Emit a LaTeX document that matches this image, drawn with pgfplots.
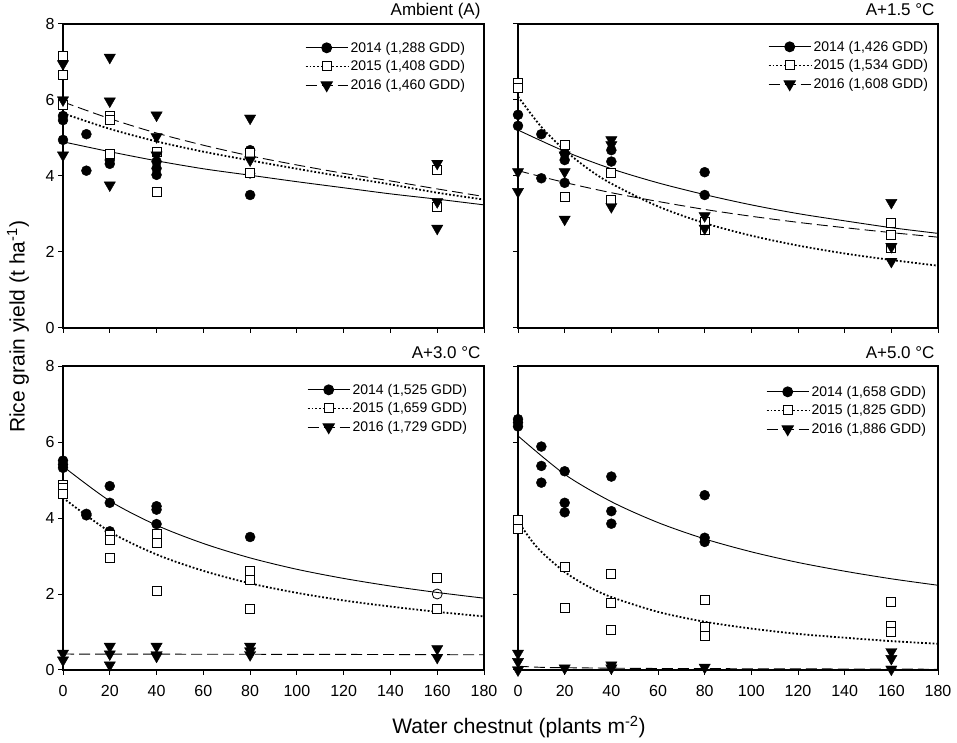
\documentclass[border=0pt]{standalone}
\usepackage{fontspec}
\setmainfont{Liberation Sans}
\usepackage{pgfplots}
\pgfplotsset{compat=1.18}

\pgfplotsset{
  panel/.style={
    scale only axis, width=421pt, height=304pt,
    xmin=0, xmax=180, ymin=0, ymax=8,
    xtick={0,20,...,180}, ytick={0,2,4,6,8},
    tick align=outside, xtick pos=lower, ytick pos=left,
    major tick length=5pt,
    axis line style={line width=1.1pt},
    every tick/.style={black, line width=1pt},
    clip=false,
    /pgf/number format/assume math mode=true,
    tick label style={font=\fontsize{16}{19}\selectfont},
    xticklabel style={yshift=-7pt},
    legend style={draw=none, fill=none, font=\fontsize{14}{17}\selectfont,
      anchor=north east, at={(1,1)}, row sep=3pt, inner sep=0pt, outer sep=0pt},
    legend cell align=left,
    legend image code/.code={\draw[mark repeat=2,mark phase=2] plot coordinates {(0pt,0pt) (21pt,0pt) (42pt,0pt)};},
  },
  mkc/.style={only marks, mark=*, mark size=5pt, black},
  mks/.style={only marks, mark=square*, mark size=4.5pt, black, mark options={fill=white, line width=1pt}},
  mkt/.style={only marks, mark=triangle*, mark size=6.5pt, black, mark options={rotate=180}},
  f14/.style={black, line width=0.9pt, no marks, smooth},
  f15/.style={black, line width=1.8pt, dash pattern=on 1.8pt off 2pt, no marks, smooth},
  f16/.style={black, line width=0.9pt, dash pattern=on 11pt off 5pt, no marks, smooth},
  l14/.style={black, line width=0.9pt, mark=*, mark size=5pt},
  l15/.style={black, line width=1.8pt, dash pattern=on 1.8pt off 2pt, mark=square*, mark size=4.5pt, mark options={solid, fill=white, line width=1pt}},
  l16/.style={black, line width=0.9pt, dash pattern=on 11pt off 5pt, mark=triangle*, mark size=6.5pt, mark options={solid, rotate=180}},
}
\tikzset{ttl/.style={anchor=base east, font=\fontsize{17}{20}\selectfont, yshift=8pt}}

\begin{document}
\begin{tikzpicture}
\useasboundingbox (0pt,0pt) rectangle (957pt,743pt);

% ---------------- Ambient (A)
\begin{axis}[panel, at={(63pt,415pt)}, anchor=south west, xticklabels={},
  legend style={xshift=-17pt, yshift=-16pt}]
\addplot[f14, forget plot] coordinates {(0,4.90) (20,4.64) (40,4.40) (60,4.19) (80,4.02) (100,3.85) (120,3.69) (140,3.53) (160,3.39) (180,3.24)};
\addplot[f15, forget plot] coordinates {(0,5.65) (20,5.24) (40,4.91) (60,4.64) (80,4.41) (100,4.19) (120,3.98) (140,3.78) (160,3.56) (180,3.38)};
\addplot[f16, forget plot] coordinates {(0,5.95) (20,5.51) (40,5.13) (60,4.81) (80,4.53) (100,4.29) (120,4.07) (140,3.87) (160,3.66) (180,3.46)};
\addplot[mkc, forget plot] coordinates {(0,5.58) (0,5.47) (0,4.95) (10,5.1) (10,4.14) (20,4.42) (20,4.32) (40,4.38) (40,4.2) (40,4.03) (80,4.68) (80,4.07) (80,3.5)};
\addplot[mks, forget plot] coordinates {(0,7.16) (0,6.66) (0,5.87) (20,5.58) (20,5.47) (20,4.57) (40,4.62) (40,3.59) (80,4.6) (80,4.07) (160,4.16) (160,3.18)};
\addplot[mkt, forget plot] coordinates {(0,6.95) (0,6.0) (0,4.55) (20,7.12) (20,5.97) (20,3.76) (40,5.6) (40,5.03) (40,4.55) (80,5.52) (80,4.42) (160,4.33) (160,3.32) (160,2.62)};
\addlegendimage{l14}\addlegendentry{2014 (1,288 GDD)}
\addlegendimage{l15}\addlegendentry{2015 (1,408 GDD)}
\addlegendimage{l16}\addlegendentry{2016 (1,460 GDD)}
\node[ttl] at (rel axis cs:1,1) {Ambient (A)};
\end{axis}

% ---------------- A+1.5
\begin{axis}[panel, width=420pt, at={(518pt,415pt)}, anchor=south west, xticklabels={}, yticklabels={},
  legend style={xshift=-8pt, yshift=-15pt}]
\addplot[f14, forget plot] coordinates {(0,5.21) (20,4.65) (40,4.19) (60,3.82) (80,3.51) (100,3.24) (120,3.01) (140,2.82) (160,2.64) (180,2.49)};
\addplot[f15, forget plot] coordinates {(0,6.09) (10,5.29) (20,4.68) (30,4.19) (40,3.80) (60,3.20) (80,2.76) (100,2.43) (120,2.17) (140,1.96) (160,1.79) (180,1.64)};
\addplot[f16, forget plot] coordinates {(0,4.14) (20,3.83) (40,3.56) (60,3.33) (80,3.12) (100,2.94) (120,2.78) (140,2.64) (160,2.51) (180,2.39)};
\addplot[mkc, forget plot] coordinates {(0,5.61) (0,5.32) (10,5.1) (10,3.94) (20,4.6) (20,4.42) (20,3.82) (40,4.68) (40,4.38) (80,4.1) (80,3.5)};
\addplot[mks, forget plot] coordinates {(0,6.46) (0,6.31) (20,4.82) (20,3.44) (40,4.07) (40,3.37) (80,2.8) (80,2.58) (160,2.77) (160,2.45) (160,2.1)};
\addplot[mkt, forget plot] coordinates {(0,4.11) (0,3.59) (20,4.55) (20,4.11) (20,2.86) (40,4.95) (40,4.82) (40,3.19) (80,2.95) (80,2.62) (160,3.3) (160,2.14) (160,1.75)};
\addlegendimage{l14}\addlegendentry{2014 (1,426 GDD)}
\addlegendimage{l15}\addlegendentry{2015 (1,534 GDD)}
\addlegendimage{l16}\addlegendentry{2016 (1,608 GDD)}
\node[ttl] at (rel axis cs:1,1) {A+1.5 °C};
\end{axis}

% ---------------- A+3.0
\begin{axis}[panel, at={(63pt,73pt)}, anchor=south west,
  legend style={xshift=-15pt, yshift=-16pt}]
\addplot[f14, forget plot] coordinates {(0,5.36) (20,4.45) (40,3.81) (60,3.33) (80,2.95) (100,2.65) (120,2.41) (140,2.21) (160,2.04) (180,1.89)};
\addplot[f15, forget plot] coordinates {(0,4.53) (20,3.64) (40,3.04) (60,2.61) (80,2.28) (100,2.03) (120,1.83) (140,1.67) (160,1.53) (180,1.41)};
\addplot[f16, forget plot] coordinates {(0,0.42) (60,0.415) (120,0.41) (180,0.40)};
\addplot[mkc, forget plot] coordinates {(0,5.51) (0,5.41) (0,5.32) (10,4.11) (10,4.07) (20,4.84) (20,4.4) (20,3.65) (40,4.31) (40,4.22) (40,3.84) (80,3.5)};
\addplot[only marks, mark=o, mark size=5pt, black, mark options={line width=0.8pt}, forget plot] coordinates {(160,2.0)};
\addplot[mks, forget plot] coordinates {(0,4.88) (0,4.78) (0,4.63) (20,3.54) (20,3.43) (20,2.96) (40,3.58) (40,3.34) (40,2.07) (80,2.61) (80,2.37) (80,1.6) (160,2.42) (160,1.61)};
\addplot[mkt, forget plot] coordinates {(0,0.44) (0,0.26) (20,0.62) (20,0.42) (20,0.13) (40,0.62) (40,0.4) (40,0.36) (80,0.62) (80,0.5) (80,0.4) (160,0.56) (160,0.33)};
\addlegendimage{l14}\addlegendentry{2014 (1,525 GDD)}
\addlegendimage{l15}\addlegendentry{2015 (1,659 GDD)}
\addlegendimage{l16}\addlegendentry{2016 (1,729 GDD)}
\node[ttl] at (rel axis cs:1,1) {A+3.0 °C};
\end{axis}

% ---------------- A+5.0
\begin{axis}[panel, width=420pt, at={(518pt,73pt)}, anchor=south west, yticklabels={},
  legend style={xshift=-10pt, yshift=-18pt}]
\addplot[f14, forget plot] coordinates {(0,6.16) (20,5.15) (40,4.43) (60,3.88) (80,3.45) (100,3.11) (120,2.83) (140,2.60) (160,2.40) (180,2.23)};
\addplot[f15, forget plot] coordinates {(0,3.92) (5,3.47) (10,3.11) (20,2.58) (30,2.20) (40,1.92) (60,1.53) (80,1.27) (100,1.09) (120,0.95) (140,0.85) (160,0.76) (180,0.69)};
\addplot[f16, forget plot] coordinates {(0,0.10) (10,0.07) (20,0.06) (60,0.04) (120,0.03) (180,0.02)};
\addplot[mkc, forget plot] coordinates {(0,6.6) (0,6.51) (0,6.41) (10,5.88) (10,5.37) (10,4.93) (20,5.23) (20,4.4) (20,4.15) (40,5.09) (40,4.18) (40,3.85) (80,4.6) (80,3.48) (80,3.37)};
\addplot[mks, forget plot] coordinates {(0,3.94) (0,3.7) (20,2.71) (20,1.63) (40,2.53) (40,1.76) (40,1.04) (80,1.85) (80,1.12) (80,0.9) (160,1.8) (160,1.16) (160,1.01)};
\addplot[mkt, forget plot] coordinates {(0,0.44) (0,0.22) (0,0.0) (20,0.05) (40,0.13) (40,0.05) (80,0.07) (160,0.48) (160,0.3) (160,0.02)};
\addlegendimage{l14}\addlegendentry{2014 (1,658 GDD)}
\addlegendimage{l15}\addlegendentry{2015 (1,825 GDD)}
\addlegendimage{l16}\addlegendentry{2016 (1,886 GDD)}
\node[ttl] at (rel axis cs:1,1) {A+5.0 °C};
\end{axis}

\node[rotate=90, font=\fontsize{21}{25}\selectfont] at (18pt,416pt) {Rice grain yield (t ha\textsuperscript{-1})};
\node[font=\fontsize{21}{25}\selectfont] at (519pt,16pt) {Water chestnut (plants m\textsuperscript{-2})};
\end{tikzpicture}
\end{document}
